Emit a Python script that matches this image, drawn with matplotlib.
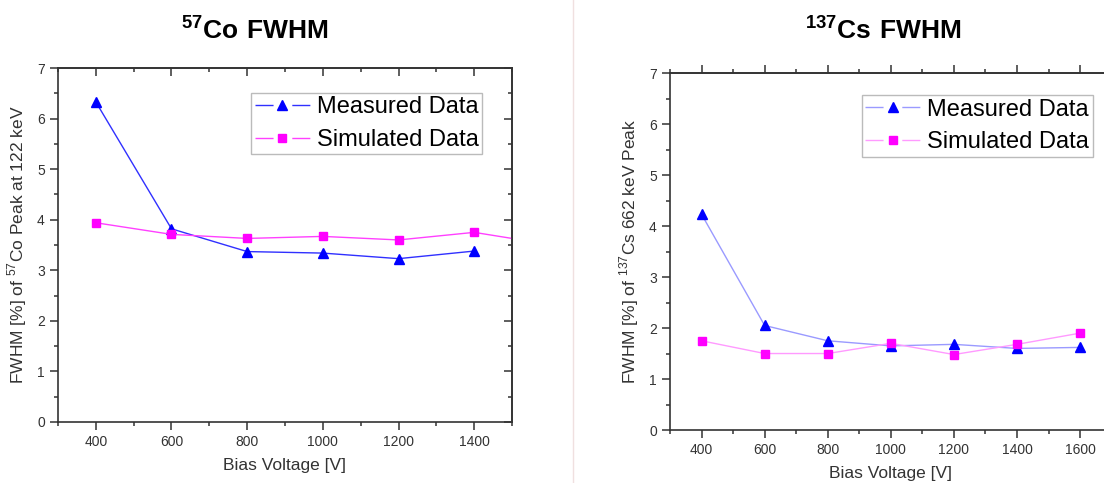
import matplotlib
matplotlib.use('Agg')
import matplotlib.pyplot as plt
from matplotlib.ticker import MultipleLocator
from matplotlib.lines import Line2D

plt.rcParams['font.family'] = ['Liberation Sans', 'DejaVu Sans']
plt.rcParams['mathtext.fontset'] = 'custom'
plt.rcParams['mathtext.rm'] = 'Liberation Sans'
plt.rcParams['mathtext.bf'] = 'Liberation Sans:bold'

# 57Co panel
co_volt = [400, 600, 800, 1000, 1200, 1400]
co_measured = [6.33, 3.82, 3.37, 3.34, 3.23, 3.38]
co_sim_volt = [400, 600, 800, 1000, 1200, 1400, 1600]
co_simulated = [3.94, 3.71, 3.63, 3.67, 3.60, 3.75, 3.51]

# 137Cs panel
cs_volt = [400, 600, 800, 1000, 1200, 1400, 1600]
cs_measured = [4.23, 2.05, 1.75, 1.65, 1.68, 1.60, 1.62]
cs_simulated = [1.75, 1.50, 1.50, 1.70, 1.48, 1.68, 1.90]

blue = '#0000ff'
pink = '#ff00ff'
ink = '#333333'

fig = plt.figure(figsize=(11.04, 4.83), dpi=100)
fig.patch.set_facecolor('white')

ax1 = fig.add_axes([0.0525, 0.1263, 0.4113, 0.7329])
ax2 = fig.add_axes([0.6069, 0.1097, 0.4000, 0.7390])


def style(ax, xmax):
	ax.set_xlim(300, xmax)
	ax.set_ylim(0, 7)
	ax.xaxis.set_major_locator(MultipleLocator(200))
	ax.xaxis.set_minor_locator(MultipleLocator(100))
	ax.yaxis.set_major_locator(MultipleLocator(1))
	ax.yaxis.set_minor_locator(MultipleLocator(0.5))
	for s in ax.spines.values():
		s.set_color(ink)
		s.set_linewidth(1.2)
	ax.tick_params(which='both', direction='out', colors=ink, labelcolor=ink,
				   labelsize=10, width=1.1)
	ax.tick_params(which='major', length=6)
	ax.tick_params(which='minor', length=3)
	ax.set_xlabel('Bias Voltage [V]', fontsize=12.5, color=ink, labelpad=6)


def mirror(ax, side, direction):
	if side == 'top':
		sec = ax.secondary_xaxis('top')
		sec.xaxis.set_major_locator(MultipleLocator(200))
		sec.xaxis.set_minor_locator(MultipleLocator(100))
	else:
		sec = ax.secondary_yaxis('right')
		sec.yaxis.set_major_locator(MultipleLocator(1))
		sec.yaxis.set_minor_locator(MultipleLocator(0.5))
	sec.tick_params(which='both', direction=direction, colors=ink, width=1.1,
					labelleft=False, labelright=False, labeltop=False, labelbottom=False)
	sec.tick_params(which='major', length=6)
	sec.tick_params(which='minor', length=3)
	for s in sec.spines.values():
		s.set_color(ink)
		s.set_linewidth(1.2)
	return sec


def legend(ax, anchor, line_col):
	h1 = Line2D([], [], color=line_col[0], lw=1.0, ls=(0, (13, 13.5)), marker='^',
				ms=7, mfc=blue, mec=blue)
	h2 = Line2D([], [], color=line_col[1], lw=1.0, ls=(0, (13, 13.5)), marker='s',
				ms=6, mfc=pink, mec=pink)
	ax.legend([h1, h2], ['Measured Data', 'Simulated Data'], loc='upper right',
			  bbox_to_anchor=anchor, fontsize=17, handlelength=2.33, handletextpad=0.3,
			  borderpad=0.15, labelspacing=0.45, frameon=True, fancybox=False,
			  edgecolor='#bbbbbb', borderaxespad=0, framealpha=1)


style(ax1, 1500)
mirror(ax1, 'top', 'in')
mirror(ax1, 'right', 'in')
ax1.plot(co_volt, co_measured, color='#3030ff', lw=1.0, marker='^', ms=7,
		 mfc=blue, mec=blue)
ax1.plot(co_sim_volt, co_simulated, color='#ff40ff', lw=1.0, marker='s', ms=6,
		 mfc=pink, mec=pink)
ax1.set_ylabel(r'FWHM [%] of $^{57}$Co Peak at 122 keV', fontsize=12.5,
			   color=ink, labelpad=6)
legend(ax1, (0.934, 0.93), ('#3030ff', '#ff40ff'))

style(ax2, 1700)
mirror(ax2, 'top', 'out')
ax2.plot(cs_volt, cs_measured, color='#9a9aff', lw=1.0, marker='^', ms=7,
		 mfc=blue, mec=blue)
ax2.plot(cs_volt, cs_simulated, color='#ff9aff', lw=1.0, marker='s', ms=6,
		 mfc=pink, mec=pink)
ax2.set_ylabel(r'FWHM [%] of $^{137}$Cs 662 keV Peak', fontsize=12.5,
			   color=ink, labelpad=6)
legend(ax2, (0.957, 0.938), ('#9a9aff', '#ff9aff'))

fig.text(0.231, 0.935, r'$\mathbf{^{57}Co\ FWHM}$', ha='center', va='center',
		 fontsize=19, color='black')
fig.text(0.800, 0.935, r'$\mathbf{^{137}Cs\ FWHM}$', ha='center', va='center',
		 fontsize=19, color='black')

fig.add_artist(Line2D([0.519, 0.519], [0.0, 1.0], transform=fig.transFigure,
					  color='#f0e0e0', lw=1))

fig.savefig('out.png', dpi=100)
